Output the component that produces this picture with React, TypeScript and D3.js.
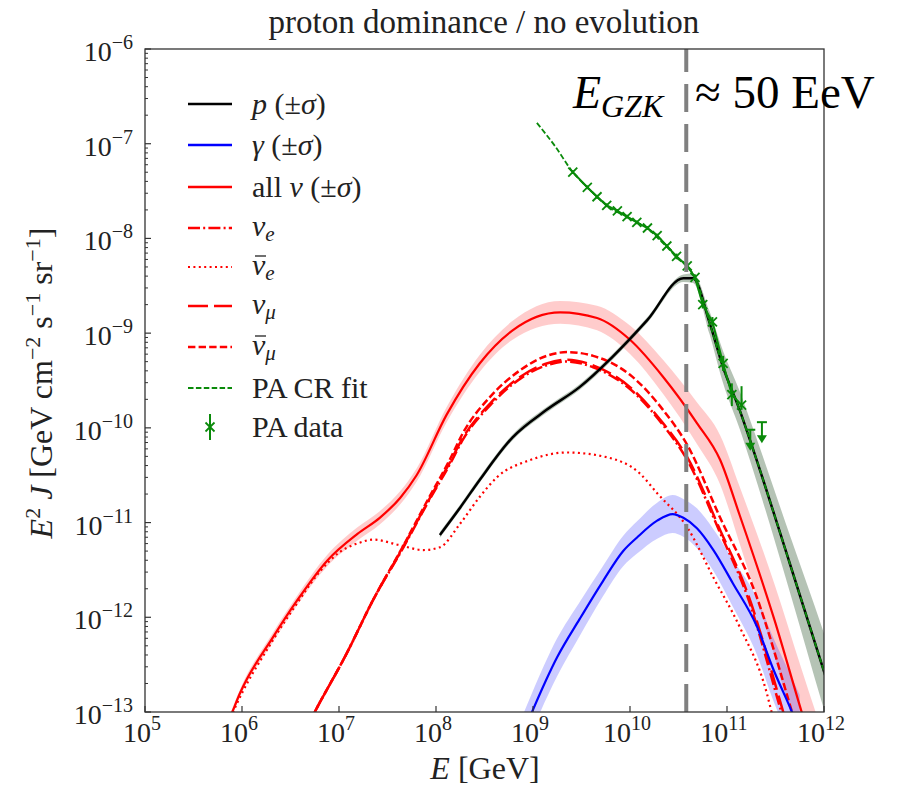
import React from "react";
import * as d3 from "d3";

// ---------- axis ticks (exponents) ----------
const xTickExps = [5, 6, 7, 8, 9, 10, 11, 12];
const yTickExps = [-13, -12, -11, -10, -9, -8, -7, -6];

// ---------- series: log10(E/GeV), log10(E^2 J), sigma in dex ----------
const nuAllLogE = [5.8, 5.9, 5.98, 6.32, 6.57, 6.88, 7.19, 7.42, 7.63, 7.8, 8.11, 8.45, 8.79, 9.28, 9.66, 10.0, 10.34, 10.69, 10.93, 11.13, 11.49, 11.77, 11.92];
const nuAllLogF = [-13.25, -13.0, -12.8, -12.21, -11.82, -11.4, -11.12, -10.95, -10.74, -10.5, -9.86, -9.32, -8.97, -8.78, -8.84, -9.07, -9.46, -9.95, -10.34, -10.92, -12.03, -13.0, -13.5];
const nuAllSig = [0.04, 0.04, 0.04, 0.05, 0.05, 0.06, 0.07, 0.07, 0.07, 0.07, 0.08, 0.09, 0.1, 0.12, 0.13, 0.15, 0.18, 0.22, 0.26, 0.3, 0.38, 0.45, 0.48];

const numuLogE = [6.65, 6.75, 7.08, 7.35, 7.66, 7.91, 8.14, 8.28, 8.56, 8.87, 9.14, 9.35, 9.62, 10.0, 10.34, 10.59, 10.93, 11.21, 11.58, 11.68];
const numuLogF = [-13.2, -13.0, -12.38, -11.82, -11.26, -10.79, -10.37, -10.1, -9.74, -9.46, -9.32, -9.28, -9.34, -9.57, -9.95, -10.31, -11.08, -11.74, -13.0, -13.35];

const nueLogE = [6.65, 6.75, 7.08, 7.35, 7.66, 7.91, 8.14, 8.28, 8.56, 8.87, 9.14, 9.35, 9.62, 10.0, 10.34, 10.59, 10.93, 11.21, 11.56, 11.66];
const nueLogF = [-13.2, -13.0, -12.38, -11.82, -11.27, -10.8, -10.39, -10.12, -9.76, -9.48, -9.34, -9.3, -9.36, -9.59, -9.97, -10.34, -11.11, -11.78, -13.0, -13.35];

const numubLogE = [6.65, 6.75, 7.08, 7.35, 7.66, 7.91, 8.14, 8.28, 8.56, 8.87, 9.14, 9.35, 9.62, 10.0, 10.34, 10.59, 10.93, 11.29, 11.67, 11.77];
const numubLogF = [-13.2, -13.0, -12.38, -11.82, -11.25, -10.77, -10.34, -10.05, -9.67, -9.39, -9.24, -9.2, -9.24, -9.44, -9.81, -10.18, -10.95, -11.74, -13.0, -13.35];

const nuebLogE = [5.8, 5.9, 6.32, 6.57, 6.8, 7.01, 7.22, 7.35, 7.63, 7.87, 8.04, 8.25, 8.45, 8.63, 8.97, 9.35, 9.76, 10.1, 10.28, 10.59, 10.86, 11.13, 11.41, 11.46, 11.55];
const nuebLogF = [-13.27, -13.02, -12.24, -11.85, -11.52, -11.31, -11.21, -11.18, -11.24, -11.29, -11.26, -11.01, -10.73, -10.52, -10.34, -10.26, -10.31, -10.48, -10.69, -11.05, -11.58, -12.1, -12.8, -13.0, -13.3];

const pLogE = [8.04, 8.25, 8.45, 8.79, 9.14, 9.48, 9.82, 10.18, 10.55, 10.65, 10.82, 10.96, 11.13, 11.27, 11.65, 11.99, 12.1];
const pLogF = [-11.13, -10.84, -10.55, -10.1, -9.81, -9.57, -9.25, -8.86, -8.42, -8.42, -8.89, -9.36, -9.81, -10.23, -11.44, -12.54, -12.9];
const pSig = [0.03, 0.03, 0.03, 0.03, 0.03, 0.03, 0.03, 0.03, 0.04, 0.05, 0.12, 0.17, 0.2, 0.22, 0.3, 0.4, 0.42];

const gLogE = [8.9, 8.99, 9.25, 9.48, 9.72, 9.93, 10.07, 10.28, 10.44, 10.55, 10.69, 10.86, 11.06, 11.31, 11.47, 11.67, 11.75];
const gLogF = [-13.22, -13.0, -12.42, -12.02, -11.62, -11.3, -11.16, -10.98, -10.91, -10.95, -11.06, -11.29, -11.64, -12.1, -12.53, -13.0, -13.2];
const gSig = [0.2, 0.2, 0.2, 0.18, 0.16, 0.16, 0.17, 0.19, 0.2, 0.2, 0.21, 0.22, 0.25, 0.3, 0.33, 0.36, 0.38];

const fitLogE = [9.04, 9.23, 9.41, 9.56, 9.66, 9.79, 9.93, 10.07, 10.18, 10.28, 10.38, 10.48, 10.59, 10.67, 10.82, 10.96, 11.13, 11.27, 11.65, 11.99, 12.1];
const fitLogF = [-6.78, -7.03, -7.3, -7.46, -7.56, -7.68, -7.75, -7.83, -7.89, -7.99, -8.09, -8.2, -8.3, -8.41, -8.89, -9.36, -9.81, -10.23, -11.44, -12.54, -12.9];

const dataLogE = [9.41, 9.56, 9.66, 9.76, 9.87, 9.97, 10.07, 10.18, 10.28, 10.38, 10.48, 10.59, 10.67, 10.75, 10.85, 10.96, 11.05, 11.15];
const dataLogF = [-7.3, -7.46, -7.56, -7.65, -7.71, -7.77, -7.83, -7.89, -7.97, -8.08, -8.19, -8.29, -8.41, -8.7, -8.88, -9.32, -9.65, -9.76];
const dataErrUp = [0.02, 0.02, 0.02, 0.02, 0.02, 0.02, 0.02, 0.02, 0.02, 0.02, 0.03, 0.03, 0.03, 0.04, 0.05, 0.08, 0.12, 0.2];
const dataErrDn = [0.02, 0.02, 0.02, 0.02, 0.02, 0.02, 0.02, 0.02, 0.02, 0.02, 0.03, 0.03, 0.03, 0.04, 0.05, 0.08, 0.12, 0.05];
const ulLogE = [11.24, 11.36];
const ulLogF = [-10.02, -9.94];

const gzkLogE = 10.58;

const SERIF = "'Liberation Serif', 'Times New Roman', serif";
const TXT = "#222";

export default function App() {
  const W = 902, H = 787;
  const x = d3.scaleLog().domain([1e5, 1e12]).range([145, 824]);
  const y = d3.scaleLog().domain([1e-13, 1e-6]).range([712, 49]);
  const [xl, xr] = x.range();
  const [yb, yt] = y.range();

  const p10 = (v: number) => Math.pow(10, v);
  const lineGen = d3
    .line<number[]>()
    .x((d) => x(d[0]))
    .y((d) => y(d[1]))
    .curve(d3.curveMonotoneX);
  const pathOf = (le: number[], lf: number[]) => lineGen(le.map((e, i) => [p10(e), p10(lf[i])])) || "";
  const bandOf = (le: number[], lf: number[], sg: number[]) =>
    d3
      .area<number>()
      .x((i) => x(p10(le[i])))
      .y0((i) => y(p10(lf[i] - sg[i])))
      .y1((i) => y(p10(lf[i] + sg[i])))
      .curve(d3.curveMonotoneX)(le.map((_, i) => i)) || "";
  const linGen = d3
    .line<number[]>()
    .x((d) => x(d[0]))
    .y((d) => y(d[1]));

  const minorY: number[] = [];
  for (let d = -13; d < -6; d++) for (let k = 2; k <= 9; k++) minorY.push(k * p10(d));

  const red = "#ff0000";
  const green = "#0a8a0a";

  const legendY = [104, 145, 187, 228, 267, 306, 347, 388, 427];
  const lx1 = 188, lx2 = 232, ltx = 252;
  const lfs = 30;

  const xm = (cx: number, cy: number, s: number, key: string) => (
    <g key={key} stroke={green} strokeWidth={1.8}>
      <line x1={cx - s} y1={cy - s} x2={cx + s} y2={cy + s} />
      <line x1={cx - s} y1={cy + s} x2={cx + s} y2={cy - s} />
    </g>
  );

  return (
    <svg width={W} height={H} style={{ position: "absolute", left: 0, top: 0, background: "#fff" }} fontFamily={SERIF}>
      <defs>
        <clipPath id="plotclip">
          <rect x={xl} y={yt} width={xr - xl} height={yb - yt} />
        </clipPath>
      </defs>
      <rect x={0} y={0} width={W} height={H} fill="#fff" />

      <g clipPath="url(#plotclip)">
        {/* bands */}
        <path d={bandOf(nuAllLogE, nuAllLogF, nuAllSig)} fill={red} fillOpacity={0.2} />
        <path d={bandOf(gLogE, gLogF, gSig)} fill="#0000ff" fillOpacity={0.2} />
        <path d={bandOf(pLogE, pLogF, pSig)} fill="#5a7a5a" fillOpacity={0.45} />

        {/* neutrino lines */}
        <path d={pathOf(nuebLogE, nuebLogF)} fill="none" stroke={red} strokeWidth={2.2} strokeDasharray="2,3.4" />
        <path d={pathOf(nueLogE, nueLogF)} fill="none" stroke={red} strokeWidth={2.5} strokeDasharray="12,3.2,2,3.2" />
        <path d={pathOf(numuLogE, numuLogF)} fill="none" stroke={red} strokeWidth={2.5} strokeDasharray="20,6" />
        <path d={pathOf(numubLogE, numubLogF)} fill="none" stroke={red} strokeWidth={2.5} strokeDasharray="7.4,3.2" />
        <path d={pathOf(nuAllLogE, nuAllLogF)} fill="none" stroke={red} strokeWidth={2.2} />

        {/* photons */}
        <path d={pathOf(gLogE, gLogF)} fill="none" stroke="#0000ff" strokeWidth={2.2} />

        {/* protons */}
        <path d={pathOf(pLogE, pLogF)} fill="none" stroke="#000" strokeWidth={2.5} />

        {/* PA CR fit */}
        <path d={pathOf(fitLogE, fitLogF)} fill="none" stroke={green} strokeWidth={1.8} strokeDasharray="5.5,2.4" />

        {/* PA data */}
        <path d={linGen(dataLogE.map((e, i) => [p10(e), p10(dataLogF[i])])) || ""} fill="none" stroke={green} strokeWidth={2} />
        {dataLogE.map((e, i) => (
          <line
            key={"eb" + i}
            x1={x(p10(e))}
            x2={x(p10(e))}
            y1={y(p10(dataLogF[i] + dataErrUp[i]))}
            y2={y(p10(dataLogF[i] - dataErrDn[i]))}
            stroke={green}
            strokeWidth={2}
          />
        ))}
        {dataLogE.map((e, i) => xm(x(p10(e)), y(p10(dataLogF[i])), 4.5, "m" + i))}
        {ulLogE.map((e, i) => {
          const cx = x(p10(e));
          const cy = y(p10(ulLogF[i]));
          return (
            <g key={"ul" + i} stroke={green} fill={green} strokeWidth={2}>
              <line x1={cx - 5} x2={cx + 5} y1={cy} y2={cy} />
              <line x1={cx} x2={cx} y1={cy} y2={cy + 16} />
              <path d={`M${cx - 5},${cy + 13} L${cx + 5},${cy + 13} L${cx},${cy + 21} Z`} stroke="none" />
            </g>
          );
        })}
      </g>

      {/* GZK line */}
      <line
        x1={x(p10(gzkLogE))}
        x2={x(p10(gzkLogE))}
        y1={yb}
        y2={yt}
        stroke="#808080"
        strokeWidth={4}
        strokeDasharray="28,12"
      />

      {/* frame */}
      <rect x={xl} y={yt} width={xr - xl} height={yb - yt} fill="none" stroke="#333" strokeWidth={1.3} />

      {/* x ticks */}
      {xTickExps.map((e) => (
        <g key={"xt" + e}>
          <line x1={x(p10(e))} x2={x(p10(e))} y1={yb} y2={yb - 6} stroke="#333" strokeWidth={1.2} />
          <text x={x(p10(e)) - 3} y={742} textAnchor="middle" fontSize={28} fill={TXT}>
            10
            <tspan fontSize={20} dy={-12}>
              {e < 0 ? "\u2212" + Math.abs(e) : String(e)}
            </tspan>
          </text>
        </g>
      ))}

      {/* y ticks */}
      {yTickExps.map((e) => (
        <g key={"yt" + e}>
          <line x1={xl} x2={xl + 6} y1={y(p10(e))} y2={y(p10(e))} stroke="#333" strokeWidth={1.2} />
          <text x={133} y={y(p10(e)) + 12} textAnchor="end" fontSize={28} fill={TXT}>
            10
            <tspan fontSize={20} dy={-12}>
              {"\u2212" + Math.abs(e)}
            </tspan>
          </text>
        </g>
      ))}
      {minorY.map((v, i) => (
        <line key={"my" + i} x1={xl} x2={xl + 3} y1={y(v)} y2={y(v)} stroke="#333" strokeWidth={1} />
      ))}

      {/* title */}
      <text x={484} y={33} textAnchor="middle" fontSize={33} fill={TXT}>
        proton dominance / no evolution
      </text>

      {/* x label */}
      <text x={485} y={779} textAnchor="middle" fontSize={32} fill={TXT}>
        <tspan fontStyle="italic">E</tspan> [GeV]
      </text>

      {/* y label */}
      <text transform="translate(52,383) rotate(-90)" textAnchor="middle" fontSize={32} fill={TXT}>
        <tspan fontStyle="italic">E</tspan>
        <tspan fontSize={22} dy={-12}>2</tspan>
        <tspan dy={12}> </tspan>
        <tspan fontStyle="italic">J</tspan>
        <tspan> [GeV cm</tspan>
        <tspan fontSize={22} dy={-12}>{"\u22122"}</tspan>
        <tspan dy={12}> s</tspan>
        <tspan fontSize={22} dy={-12}>{"\u22121"}</tspan>
        <tspan dy={12}> sr</tspan>
        <tspan fontSize={22} dy={-12}>{"\u22121"}</tspan>
        <tspan dy={12}>]</tspan>
      </text>

      {/* legend */}
      <g>
        <line x1={lx1} x2={lx2} y1={legendY[0]} y2={legendY[0]} stroke="#000" strokeWidth={2.5} />
        <line x1={lx1} x2={lx2} y1={legendY[1]} y2={legendY[1]} stroke="#0000ff" strokeWidth={2.5} />
        <line x1={lx1} x2={lx2} y1={legendY[2]} y2={legendY[2]} stroke={red} strokeWidth={2.5} />
        <line x1={lx1} x2={lx2} y1={legendY[3]} y2={legendY[3]} stroke={red} strokeWidth={2.5} strokeDasharray="12,3.2,2,3.2" />
        <line x1={lx1} x2={lx2} y1={legendY[4]} y2={legendY[4]} stroke={red} strokeWidth={2.2} strokeDasharray="2,3.4" />
        <line x1={lx1} x2={lx2} y1={legendY[5]} y2={legendY[5]} stroke={red} strokeWidth={2.5} strokeDasharray="20,6" />
        <line x1={lx1} x2={lx2} y1={legendY[6]} y2={legendY[6]} stroke={red} strokeWidth={2.5} strokeDasharray="7.4,3.2" />
        <line x1={lx1} x2={lx2} y1={legendY[7]} y2={legendY[7]} stroke={green} strokeWidth={1.8} strokeDasharray="5.5,2.4" />
        <line x1={210} x2={210} y1={legendY[8] - 13} y2={legendY[8] + 13} stroke={green} strokeWidth={2} />
        {xm(210, legendY[8], 4.5, "legx")}

        <text x={ltx} y={legendY[0] + 10} fontSize={lfs} fill={TXT}>
          <tspan fontStyle="italic">p</tspan> (±<tspan fontStyle="italic">σ</tspan>)
        </text>
        <text x={ltx} y={legendY[1] + 10} fontSize={lfs} fill={TXT}>
          <tspan fontStyle="italic">γ</tspan> (±<tspan fontStyle="italic">σ</tspan>)
        </text>
        <text x={ltx} y={legendY[2] + 10} fontSize={lfs} fill={TXT}>
          all <tspan fontStyle="italic">ν</tspan> (±<tspan fontStyle="italic">σ</tspan>)
        </text>
        <text x={ltx} y={legendY[3] + 8} fontSize={lfs} fill={TXT}>
          <tspan fontStyle="italic">ν</tspan>
          <tspan fontStyle="italic" fontSize={21} dy={5}>e</tspan>
        </text>
        <text x={ltx} y={legendY[4] + 8} fontSize={lfs} fill={TXT}>
          <tspan fontStyle="italic">ν</tspan>
          <tspan fontStyle="italic" fontSize={21} dy={5}>e</tspan>
        </text>
        <line x1={ltx + 3} x2={ltx + 14} y1={legendY[4] - 11} y2={legendY[4] - 11} stroke={TXT} strokeWidth={1.3} />
        <text x={ltx} y={legendY[5] + 8} fontSize={lfs} fill={TXT}>
          <tspan fontStyle="italic">ν</tspan>
          <tspan fontStyle="italic" fontSize={21} dy={5}>μ</tspan>
        </text>
        <text x={ltx} y={legendY[6] + 8} fontSize={lfs} fill={TXT}>
          <tspan fontStyle="italic">ν</tspan>
          <tspan fontStyle="italic" fontSize={21} dy={5}>μ</tspan>
        </text>
        <line x1={ltx + 3} x2={ltx + 14} y1={legendY[6] - 11} y2={legendY[6] - 11} stroke={TXT} strokeWidth={1.3} />
        <text x={ltx} y={legendY[7] + 10} fontSize={lfs} fill={TXT}>
          PA CR fit
        </text>
        <text x={ltx} y={legendY[8] + 10} fontSize={lfs} fill={TXT}>
          PA data
        </text>
      </g>

      {/* annotation */}
      <text x={573} y={108} fontSize={46} fill="#000">
        <tspan fontStyle="italic">E</tspan>
        <tspan fontStyle="italic" fontSize={32} dy={9}>GZK</tspan>
      </text>
      <text x={695} y={108} fontSize={47} fill="#000">
        ≈ 50 EeV
      </text>
    </svg>
  );
}
